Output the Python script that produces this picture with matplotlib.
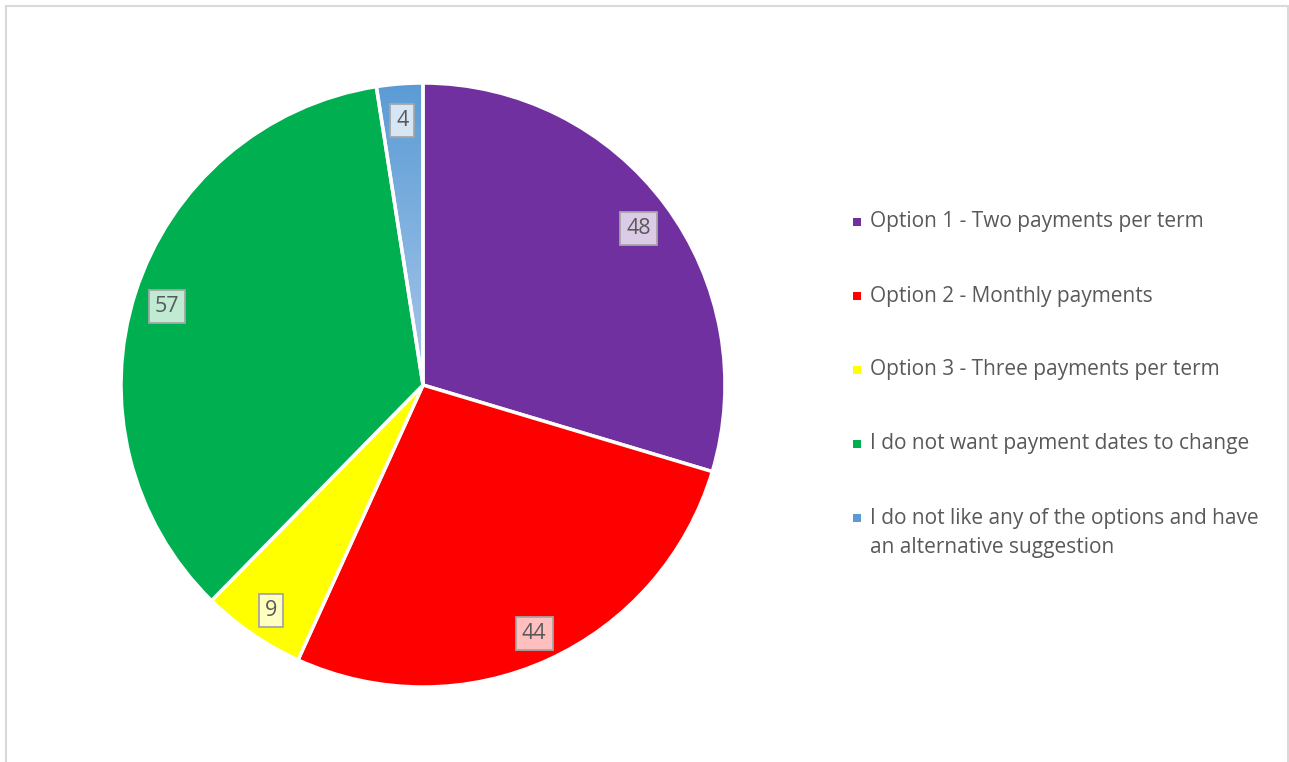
import numpy as np
import matplotlib.pyplot as plt
from matplotlib.colors import LinearSegmentedColormap, to_rgb
from matplotlib.patches import Rectangle

labels = ["Option 1 - Two payments per term",
          "Option 2 - Monthly payments",
          "Option 3 - Three payments per term",
          "I do not want payment dates to change",
          "I do not like any of the options and have\nan alternative suggestion"]
values = [48, 44, 9, 57, 4]
colors = ["#7030A0", "#FF0000", "#FFFF00", "#00B050", "#5B9BD5"]

W, H = 1289, 762
fig = plt.figure(figsize=(W / 100, H / 100), dpi=100)
plt.rcParams['font.family'] = ['Open Sans', 'DejaVu Sans']

# chart area border
fig.patches.append(Rectangle((6 / W, -0.01), (1288 - 6) / W, (H - 6) / H + 0.01,
                             transform=fig.transFigure, fill=False,
                             edgecolor="#D9D9D9", linewidth=1.5))

cx, cy, r = 423, 385, 302
ax = fig.add_axes([(cx - r) / W, (H - cy - r) / H, 2 * r / W, 2 * r / H])
wedges, _ = ax.pie(values, colors=colors, startangle=90, counterclock=False,
                   wedgeprops=dict(edgecolor="white", linewidth=2.5))

# gradient fill on the small blue slice
grad = np.linspace(0, 1, 256).reshape(-1, 1)
cmap = LinearSegmentedColormap.from_list("b", ["#A8C8EA", "#5B9BD5"])
im = ax.imshow(grad, extent=(-1, 1, 0, 1), origin="lower", cmap=cmap,
               aspect="auto", zorder=wedges[4].get_zorder() - 0.1)
wedges[4].set_facecolor("none")
im.set_clip_path(wedges[4])
ax.set_xlim(-1, 1)
ax.set_ylim(-1, 1)
ax.set_aspect("equal")
ax.axis("off")

# data labels
for w, v, c in zip(wedges, values, colors):
    mid = np.deg2rad((w.theta1 + w.theta2) / 2)
    x, y = 0.89 * np.cos(mid), 0.89 * np.sin(mid) - 0.012
    face = 0.25 * np.array(to_rgb(c)) + 0.75
    ax.text(x, y, str(v), ha="center", va="center", fontsize=15.5, color="#595959",
            bbox=dict(boxstyle="square,pad=0.28", facecolor=face,
                      edgecolor="#A6A6A6", linewidth=1.3), zorder=5)

# legend
leg_y = [222, 296, 370, 444, 533]
for lab, c, yy in zip(labels, colors, leg_y):
    my = yy - 15 if "\n" in lab else yy
    fig.patches.append(Rectangle((853 / W, (H - my - 4) / H), 8 / W, 8 / H,
                                 transform=fig.transFigure, facecolor=c,
                                 edgecolor="none"))
    fig.text(870 / W, (H - yy) / H, lab, fontsize=15, color="#595959",
             ha="left", va="center", linespacing=1.5)

fig.savefig("out.png", dpi=100)
